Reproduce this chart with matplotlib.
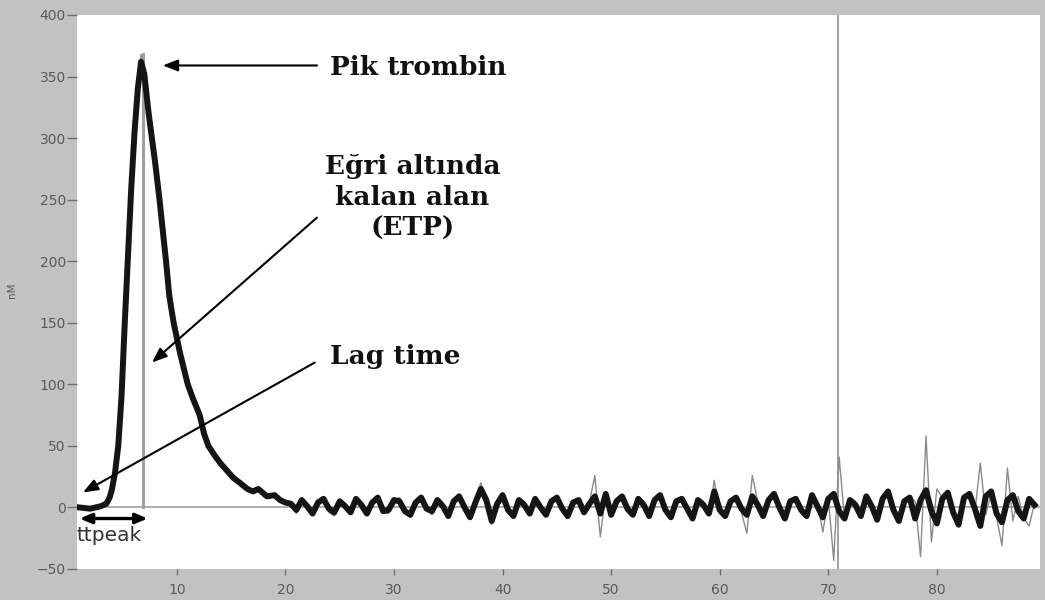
import numpy as np
import matplotlib
matplotlib.use("Agg")
import matplotlib.pyplot as plt

# ---- data ----
peak_time = [1.0, 2.0, 2.5, 3.0, 3.5, 3.8, 4.0, 4.3, 4.6, 4.9, 5.2, 5.5, 5.8, 6.1, 6.4, 6.7,
             7.0, 7.4, 7.7, 8.0, 8.4, 8.7, 9.0, 9.3, 9.7, 10.3, 11.0, 11.5, 12.1, 12.5, 12.9,
             13.5, 14.0, 14.6, 15.2, 15.8, 16.5, 17.0, 17.5, 18.3, 19.0, 19.5, 20.0]
peak_black = [0, -1, 0, 1, 3, 8, 14, 28, 50, 90, 150, 205, 260, 305, 340, 362,
              352, 320, 300, 280, 250, 225, 200, 172, 150, 125, 100, 88, 75, 60, 50,
              42, 36, 30, 24, 20, 15, 13, 15, 9, 10, 6, 4]
peak_gray = [0, -1, 0, 1, 3, 8, 14, 28, 50, 90, 150, 205, 260, 305, 342, 368,
             354, 320, 300, 280, 250, 225, 200, 172, 150, 125, 104, 86, 77, 58, 52,
             44, 34, 32, 22, 22, 13, 15, 13, 11, 8, 7, 3]

noise_start, noise_end, noise_step = 20.5, 89.0, 0.5
noise_black = [3, -2, 6, 1, -5, 4, 7, -1, -4, 5, 1, -4, 7, 2, -5, 4, 8, -3, -2, 6,
               5, -3, -6, 4, 8, -1, -3, 6, 1, -7, 5, 9, 0, -8, 4, 15, 6, -11, 3, 10,
               -2, -7, 6, 2, -5, 7, 0, -6, 5, 8, -1, -7, 4, 6, -4, 3, 9, -5, 11, -6,
               5, 9, -1, -6, 7, 2, -7, 6, 10, -2, -8, 5, 7, -1, -9, 6, 2, -5, 13, -2,
               -7, 5, 8, -1, -6, 9, 2, -7, 6, 11, 0, -9, 5, 7, -2, -7, 10, 1, -8, 7,
               11, -3, -9, 6, 2, -7, 9, 1, -10, 7, 13, -2, -11, 5, 8, -9, 6, 14, -3, -13,
               7, 12, -4, -14, 8, 11, -1, -15, 9, 13, -5, -12, 6, 10, -3, -9, 7, 2]
noise_gray = [4, -5, 7, -2, -6, 5, 8, -4, -7, 6, 3, -5, 8, 2, -6, 5, 7, -4, -5, 6,
              8, -3, -7, 5, 9, -2, -6, 7, 4, -8, 6, 11, -3, -9, 5, 20, 6, -14, 4, 12,
              -5, -8, 7, 5, -6, 8, 3, -7, 6, 9, -4, -8, 5, 7, -5, 4, 26, -24, 12, -6,
              6, 10, -4, -7, 8, 5, -8, 7, 11, -5, -9, 6, 8, -4, -10, 7, 5, -6, 22, -5,
              -8, 6, 9, -4, -21, 26, 5, -8, 7, 12, -3, -10, 6, 8, -5, -8, 11, 4, -20, 8,
              -43, 41, -10, 7, 5, -8, 10, 4, -12, 8, 14, -5, -12, 6, 9, 5, -40, 58, -28, 15,
              8, 13, -7, -15, 9, 10, -4, 36, -6, 12, -8, -31, 32, -11, 9, -9, -15, 4]

yticks = [-50, 0, 50, 100, 150, 200, 250, 300, 350, 400]
xticks = [10, 20, 30, 40, 50, 60, 70, 80]
peak_marker_x = 6.87
end_marker_x = 70.9

noise_time = np.arange(noise_start, noise_end + 0.01, noise_step)
time = np.concatenate([peak_time, noise_time])
black = np.concatenate([peak_black, noise_black])
gray = np.concatenate([peak_gray, noise_gray])

# ---- figure ----
bg = '#c2c2c2'
fig = plt.figure(figsize=(10.45, 6.0), dpi=100, facecolor=bg)
ax = fig.add_axes([77/1045, 31/600, 963/1045, 554/600])
ax.set_facecolor('white')
for s in ax.spines.values():
    s.set_visible(False)

ax.set_xlim(0.8, 89.5)
ax.set_ylim(-50, 400)

ax.axhline(0, color='#a8a8a8', lw=1.3, zorder=1)
ax.axvline(end_marker_x, color='#909090', lw=1.2, zorder=1)
ax.plot([peak_marker_x, peak_marker_x], [0, 368], color='#a0a0a0', lw=2.2, zorder=1)

ax.plot(time, gray, color='#8a8a8a', lw=1.0, zorder=2)
ax.plot(time, black, color='#151515', lw=4.3, zorder=3, solid_joinstyle='round')

ax.set_yticks(yticks)
ax.set_xticks(xticks)
ax.tick_params(axis='y', direction='out', length=7, width=1, color='#707070',
               labelcolor='#5a5a5a', labelsize=10, pad=1)
ax.tick_params(axis='x', direction='out', length=4, width=1, color='#707070',
               labelcolor='#5a5a5a', labelsize=10, pad=6)
fig.text(12/1045, 1 - 290/600, 'nM', rotation=90, fontsize=7.5, color='#5a5a5a',
         ha='center', va='center')

tfont = dict(family='DejaVu Serif', fontweight='bold', fontsize=19, color='#111111')
ap = dict(arrowstyle='-|>,head_length=0.9,head_width=0.35', color='black', lw=1.5,
          shrinkA=0, shrinkB=0)

ax.annotate('', xy=(8.7, 359), xytext=(22.9, 359), arrowprops=ap, zorder=5)
ax.text(24.1, 357, 'Pik trombin', va='center', ha='left', **tfont)

ax.annotate('', xy=(7.7, 117.7), xytext=(22.9, 235.4), arrowprops=ap, zorder=5)
ax.text(31.7, 252, 'Eğri altında\nkalan alan\n(ETP)', va='center', ha='center',
        multialignment='center', linespacing=1.3, **tfont)

ax.annotate('', xy=(1.35, 12.2), xytext=(22.7, 117.7), arrowprops=ap, zorder=5)
ax.text(24.1, 123, 'Lag time', va='center', ha='left', **tfont)

ap2 = dict(arrowstyle='<|-|>,head_length=0.7,head_width=0.3', color='black', lw=2.4,
           shrinkA=0, shrinkB=0)
ax.annotate('', xy=(1.05, -9), xytext=(7.3, -9), arrowprops=ap2, zorder=5)
ax.text(0.75, -23, 'ttpeak', ha='left', va='center', fontsize=14.5, color='#333333')

fig.savefig('out.png', dpi=100, facecolor=bg)
